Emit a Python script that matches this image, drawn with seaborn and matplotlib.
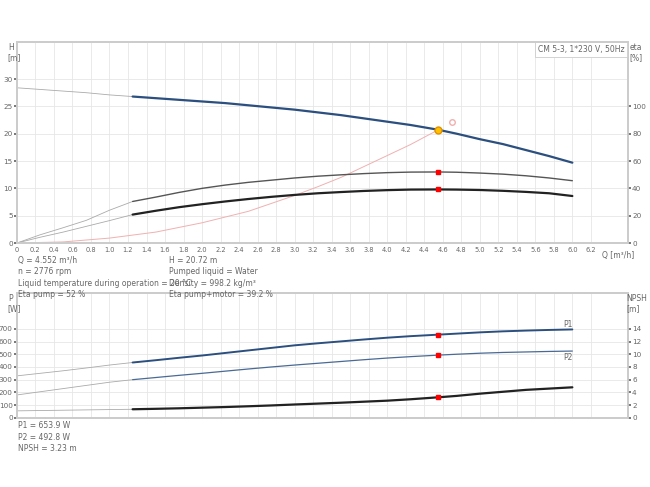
import numpy as np
import seaborn as sns
import matplotlib.pyplot as plt

sns.set_theme(style="whitegrid")
plt.rcParams['font.family'] = ['DejaVu Sans']

# pump curves (dense enough to look smooth)
q = [0, 0.25, 0.5, 0.75, 1.0, 1.25, 1.5, 1.75, 2.0, 2.25, 2.5, 2.75, 3.0, 3.25, 3.5, 3.75,
     4.0, 4.25, 4.552, 4.75, 5.0, 5.25, 5.5, 5.75, 6.0]
head = [28.4, 28.1, 27.8, 27.5, 27.1, 26.8, 26.5, 26.2, 25.9, 25.6, 25.2, 24.8, 24.4, 23.9,
        23.4, 22.8, 22.2, 21.6, 20.72, 20.0, 19.0, 18.1, 17.0, 15.9, 14.7]
eta_pump = [0, 6.0, 11.2, 16.6, 24.0, 30.4, 33.6, 37.0, 40.0, 42.4, 44.4, 46.0, 47.6, 48.9,
            49.9, 50.8, 51.5, 51.9, 52.0, 51.8, 51.2, 50.4, 49.2, 47.6, 45.6]
eta_total = [0, 4.2, 8.0, 12.2, 16.4, 20.8, 23.6, 26.2, 28.4, 30.4, 32.2, 33.8, 35.2, 36.4,
             37.3, 38.1, 38.7, 39.1, 39.2, 39.1, 38.8, 38.2, 37.4, 36.4, 34.4]
q_sys = [0, 0.5, 1.0, 1.5, 2.0, 2.5, 3.0, 3.25, 3.5, 3.75, 4.0, 4.25, 4.552]
h_sys = [0, 0.2, 0.9, 2.0, 3.7, 5.8, 8.7, 10.3, 12.0, 14.0, 16.0, 18.0, 20.72]
p1 = [330, 350, 370, 392, 415, 435, 453, 472, 490, 510, 530, 550, 570, 586, 601, 616,
      630, 642, 654, 662, 672, 680, 686, 691, 695]
p2 = [180, 205, 230, 255, 280, 300, 317, 334, 350, 367, 384, 400, 415, 429, 443, 457,
      470, 481, 493, 500, 508, 514, 518, 522, 525]
npsh = [1.1, 1.15, 1.2, 1.25, 1.3, 1.35, 1.42, 1.5, 1.6, 1.7, 1.82, 1.95, 2.1, 2.24, 2.38,
        2.54, 2.7, 2.92, 3.23, 3.45, 3.8, 4.1, 4.4, 4.6, 4.8]

q_op = 4.552
cut = 5  # index where the thick part starts (Q = 1.25)

blue = '#2b4f7e'
txt = dict(fontsize=5.5, color='#666666')

fig = plt.figure(figsize=(6.5, 4.87), dpi=100)
ax = fig.add_axes([0.026, 0.501, 0.94, 0.413])
ax2 = ax.twinx()
bx = fig.add_axes([0.026, 0.142, 0.94, 0.256])
bx2 = bx.twinx()

def thin_thick(a, x, y, color, lw):
    sns.lineplot(x=x[:cut + 1], y=y[:cut + 1], ax=a, color='#aaaaaa', lw=0.6)
    sns.lineplot(x=x[cut:], y=y[cut:], ax=a, color=color, lw=lw)

thin_thick(ax, q, head, blue, 1.6)
thin_thick(ax2, q, eta_pump, '#555555', 1.0)
thin_thick(ax2, q, eta_total, '#222222', 1.6)
sns.lineplot(x=q_sys, y=h_sys, ax=ax, color='#f0b0b0', lw=0.7)
ax.plot([4.7], [22.2], 'o', mfc='none', mec='#f0b0b0', ms=4)
ax.plot([q_op], [20.72], 'o', color='#ffc000', mec='#e09000', ms=5, zorder=5)
ax2.plot([q_op, q_op], [52.0, 39.2], 's', color='red', ms=3, zorder=5)

thin_thick(bx, q, p1, blue, 1.4)
thin_thick(bx, q, p2, '#4a6a95', 0.9)
thin_thick(bx2, q, npsh, '#222222', 1.6)
bx.plot([q_op, q_op], [653.9, 492.8], 's', color='red', ms=3, zorder=5)
bx2.plot([q_op], [3.23], 's', color='red', ms=3, zorder=5)
bx.text(5.9, 715, 'P1', **txt)
bx.text(5.9, 455, 'P2', **txt)

xt = np.round(np.arange(0, 6.3, 0.2), 1)
for a in (ax, ax2, bx, bx2):
    a.set_xlim(0, 6.6)
    a.set_xlabel('')
    a.set_ylabel('')
    a.tick_params(labelsize=5.2, colors='#666666', length=2, pad=1)
    for s in a.spines.values():
        s.set_color('#cccccc')
for a in (ax2, bx2):
    a.grid(False)
for a in (ax, bx):
    a.set_xticks(xt)
    a.grid(color='#e6e6e6', lw=0.6)

ax.set_xticklabels([('%.1f' % v) if v else '0' for v in xt], fontsize=4.8)
bx.set_xticklabels([])
ax.set_ylim(0, 36.8)
ax.set_yticks(range(0, 31, 5))
ax2.set_ylim(0, 147.2)
ax2.set_yticks(range(0, 101, 20))
bx.set_ylim(0, 980)
bx.set_yticks(range(0, 701, 100))
bx2.set_ylim(0, 19.6)
bx2.set_yticks(range(0, 15, 2))

fig.text(0.012, 0.912, 'H\n[m]', ha='left', va='top', **txt)
fig.text(0.968, 0.912, 'eta\n[%]', ha='left', va='top', **txt)
ax.text(6.32, -2.8, 'Q [m³/h]', **txt)
ax.text(0.995, 0.985, 'CM 5-3, 1*230 V, 50Hz', transform=ax.transAxes, ha='right', va='top',
        bbox=dict(fc='white', ec='#cccccc', lw=0.6, pad=2), **txt)
fig.text(0.012, 0.397, 'P\n[W]', ha='left', va='top', **txt)
fig.text(0.964, 0.397, 'NPSH\n[m]', ha='left', va='top', **txt)

fig.text(0.028, 0.475, 'Q = 4.552 m³/h\nn = 2776 rpm\nLiquid temperature during operation = 20 °C\nEta pump = 52 %',
         va='top', linespacing=1.35, **txt)
fig.text(0.26, 0.475, 'H = 20.72 m\nPumped liquid = Water\nDensity = 998.2 kg/m³\nEta pump+motor = 39.2 %',
         va='top', linespacing=1.35, **txt)
fig.text(0.028, 0.135, 'P1 = 653.9 W\nP2 = 492.8 W\nNPSH = 3.23 m', va='top', linespacing=1.35, **txt)

fig.savefig('out.png', dpi=100)
